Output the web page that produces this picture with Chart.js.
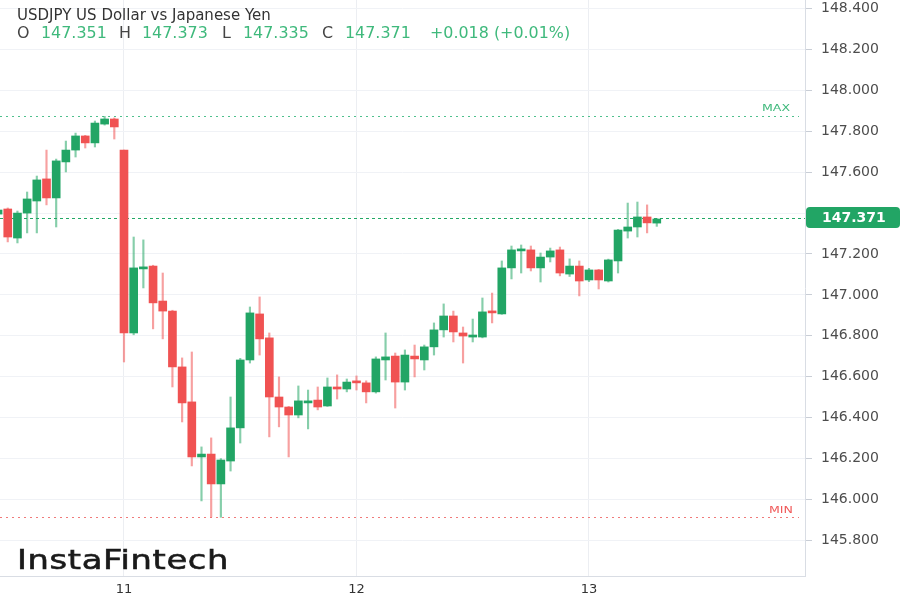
<!DOCTYPE html>
<html>
<head>
<meta charset="utf-8">
<script src="https://cdn.jsdelivr.net/npm/chart.js@4.4.0/dist/chart.umd.min.js"></script>
<style>
    html, body { margin: 0; padding: 0; background: #fff; }
    #wrap { width: 900px; height: 600px; }
</style>
</head>
<body>
<div id="wrap"><canvas id="fxChart" width="900" height="600"></canvas></div>
<script>
// hourly candles, hour 0 = day 11 00:00
const hours = [-13, -12, -11, -10, -9, -8, -7, -6, -5, -4, -3, -2, -1,
    0, 1, 2, 3, 4, 5, 6, 7, 8, 9, 10, 11, 12, 13, 14, 15, 16, 17, 18, 19, 20, 21, 22, 23,
    24, 25, 26, 27, 28, 29, 30, 31, 32, 33, 34, 35, 36, 37, 38, 39, 40, 41, 42, 43, 44, 45, 46, 47,
    48, 49, 50, 51, 52, 53, 54, 55];

const opens = [147.395, 147.420, 147.278, 147.400, 147.459, 147.567, 147.474, 147.650, 147.708, 147.777, 147.743, 147.835, 147.860,
    147.708, 146.814, 147.127, 147.141, 146.970, 146.921, 146.648, 146.477, 146.208, 146.222, 146.076, 146.188, 146.350, 146.682, 146.907, 146.790, 146.501, 146.452, 146.413, 146.472, 146.486, 146.457, 146.550, 146.540,
    146.579, 146.570, 146.526, 146.682, 146.701, 146.574, 146.701, 146.682, 146.746, 146.829, 146.897, 146.814, 146.794, 146.794, 146.917, 146.907, 147.132, 147.215, 147.220, 147.132, 147.185, 147.220, 147.102, 147.141,
    147.073, 147.122, 147.068, 147.166, 147.312, 147.332, 147.381, 147.351];

const highs = [147.420, 147.425, 147.410, 147.503, 147.581, 147.708, 147.664, 147.752, 147.791, 147.780, 147.850, 147.873, 147.865,
    147.708, 147.283, 147.269, 147.145, 147.107, 146.925, 146.692, 146.721, 146.257, 146.301, 146.200, 146.501, 146.690, 146.941, 146.990, 146.814, 146.599, 146.455, 146.555, 146.535, 146.550, 146.594, 146.609, 146.589,
    146.604, 146.580, 146.697, 146.814, 146.716, 146.731, 146.755, 146.755, 146.863, 146.956, 146.921, 146.843, 146.882, 146.985, 147.009, 147.166, 147.239, 147.244, 147.239, 147.205, 147.229, 147.234, 147.176, 147.166,
    147.130, 147.125, 147.175, 147.320, 147.449, 147.454, 147.440, 147.373];

const lows = [147.380, 147.259, 147.254, 147.303, 147.303, 147.440, 147.332, 147.601, 147.674, 147.718, 147.723, 147.830, 147.762,
    146.672, 146.805, 147.034, 146.834, 146.785, 146.550, 146.379, 146.164, 145.993, 145.915, 145.913, 146.139, 146.276, 146.667, 146.706, 146.306, 146.355, 146.208, 146.399, 146.345, 146.438, 146.455, 146.491, 146.526,
    146.535, 146.472, 146.520, 146.584, 146.447, 146.535, 146.599, 146.633, 146.706, 146.794, 146.770, 146.667, 146.770, 146.790, 146.863, 146.905, 147.078, 147.107, 147.117, 147.063, 147.161, 147.093, 147.090, 146.995,
    147.065, 147.029, 147.063, 147.107, 147.278, 147.283, 147.303, 147.335];

const closes = [147.415, 147.283, 147.400, 147.469, 147.562, 147.474, 147.655, 147.708, 147.777, 147.743, 147.840, 147.860, 147.821,
    146.814, 147.132, 147.137, 146.961, 146.921, 146.648, 146.472, 146.208, 146.222, 146.076, 146.193, 146.350, 146.682, 146.912, 146.785, 146.501, 146.452, 146.413, 146.482, 146.482, 146.452, 146.550, 146.540, 146.574,
    146.570, 146.526, 146.687, 146.697, 146.574, 146.706, 146.687, 146.746, 146.829, 146.897, 146.819, 146.799, 146.804, 146.917, 146.912, 147.132, 147.220, 147.220, 147.132, 147.185, 147.215, 147.107, 147.141, 147.068,
    147.122, 147.073, 147.171, 147.317, 147.332, 147.381, 147.352, 147.371];

const dayTicks = [0, 24, 48];
const dayLabels = ["11", "12", "13"];
const priceTicks = [145.8, 146.0, 146.2, 146.4, 146.6, 146.8, 147.0, 147.2, 147.4, 147.6, 147.8, 148.0, 148.2, 148.4];

const GREEN = "#22a565";
const RED = "#f05252";
const GREEN_WICK = "rgba(34,165,101,0.55)";
const RED_WICK = "rgba(240,82,82,0.55)";
const FONT = "DejaVu Sans";

const last = closes.length - 1;
const isUp = i => closes[i] >= opens[i];

function stretchText(c, text, x, y, font, color, sx, stroke) {
    c.save();
    c.font = font;
    c.fillStyle = color;
    c.textBaseline = "alphabetic";
    c.translate(x, y);
    c.scale(sx, 1);
    c.fillText(text, 0, 0);
    if (stroke) {
        c.strokeStyle = color;
        c.lineWidth = stroke;
        c.strokeText(text, 0, 0);
    }
    c.restore();
}

function hLine(c, area, y, color, dash, right) {
    c.save();
    c.strokeStyle = color;
    c.lineWidth = 1;
    c.setLineDash(dash);
    c.beginPath();
    c.moveTo(area.left, Math.round(y) + 0.5);
    c.lineTo(right, Math.round(y) + 0.5);
    c.stroke();
    c.restore();
}

const overlay = {
    id: "overlay",
    beforeDatasetsDraw(chart) {
        const c = chart.ctx, a = chart.chartArea, y = chart.scales.y;
        hLine(c, a, y.getPixelForValue(Math.max(...highs)), "#4fc08d", [2, 4], a.right - 6);
        hLine(c, a, y.getPixelForValue(Math.min(...lows)), "#f07a7a", [2, 4], a.right - 6);
        hLine(c, a, y.getPixelForValue(closes[last]) - 1, "#22a865", [3, 3], a.right);
    },
    afterDraw(chart) {
        const c = chart.ctx, a = chart.chartArea, y = chart.scales.y;
        const yMax = y.getPixelForValue(Math.max(...highs));
        const yMin = y.getPixelForValue(Math.min(...lows));
        stretchText(c, "MAX", 762, yMax - 5, "9px " + FONT, "#3fb97c", 1.4);
        stretchText(c, "MIN", 769, yMin - 4, "9px " + FONT, "#f05a5a", 1.4);

        // last price tag on the axis
        const yl = y.getPixelForValue(closes[last]) - 1;
        c.save();
        c.fillStyle = GREEN;
        c.beginPath();
        c.roundRect(a.right + 1, yl - 11, chart.width - a.right - 1, 21, 4);
        c.fill();
        c.fillStyle = "#fff";
        c.font = "bold 14px " + FONT;
        c.textBaseline = "middle";
        c.fillText(closes[last].toFixed(3), 822, yl + 0.5);
        c.restore();

        // header
        stretchText(c, "USDJPY US Dollar vs Japanese Yen", 17, 19.5, "15px " + FONT, "#333", 1);
        const ohlc = [["O", 17], [opens[last].toFixed(3), 41], ["H", 119], [highs[last].toFixed(3), 142],
            ["L", 222], [lows[last].toFixed(3), 243], ["C", 322], [closes[last].toFixed(3), 345]];
        ohlc.forEach(([t, x], k) => {
            stretchText(c, t, x, 38, "15px " + FONT, k % 2 ? "#3fb97c" : "#444", 1.06);
        });
        stretchText(c, "+0.018 (+0.01%)", 430, 38, "15px " + FONT, "#3fb97c", 1.06);

        // watermark
        c.save();
        c.letterSpacing = "0.5px";
        stretchText(c, "InstaFintech", 17, 569, "27px " + FONT, "#1a1a1a", 1.25, 0.6);
        c.restore();
    }
};

const ctx = document.getElementById("fxChart");

const chart = new Chart(ctx, {
    type: "bar",
    data: {
        datasets: [{
            label: "body",
            data: hours.map((h, i) => ({ x: h, y: [opens[i], closes[i]] })),
            backgroundColor: c => isUp(c.dataIndex) ? GREEN : RED,
            barThickness: 8,
            minBarLength: 2,
            grouped: false,
            borderWidth: 0
        }, {
            label: "wick",
            data: hours.map((h, i) => ({ x: h, y: [lows[i], highs[i]] })),
            backgroundColor: c => isUp(c.dataIndex) ? GREEN_WICK : RED_WICK,
            barThickness: 1.5,
            grouped: false,
            borderWidth: 0
        }]
    },
    options: {
        responsive: false,
        animation: false,
        layout: { padding: 0, autoPadding: false },
        plugins: {
            legend: { display: false },
            tooltip: { enabled: false }
        },
        scales: {
            x: {
                type: "linear",
                min: -12.8,
                max: 70.3,
                offset: false,
                afterBuildTicks: s => { s.ticks = dayTicks.map(v => ({ value: v })); },
                afterFit: s => { s.height = 24; s.paddingLeft = 0; s.paddingRight = 0; },
                grid: { color: "#eceef2", drawTicks: false, offset: false },
                border: { color: "#d9dde4" },
                ticks: {
                    callback: v => dayLabels[dayTicks.indexOf(v)],
                    color: "#333",
                    font: { family: FONT, size: 13 },
                    padding: 6,
                    maxRotation: 0,
                    autoSkip: false
                }
            },
            y: {
                position: "right",
                min: 145.626,
                max: 148.4415,
                afterBuildTicks: s => { s.ticks = priceTicks.map(v => ({ value: v })); },
                afterFit: s => { s.width = 95; s.paddingTop = 0; s.paddingBottom = 0; },
                grid: { color: "#f0f2f6", tickColor: "#c9ced6", tickLength: 7 },
                border: { color: "#d9dde4" },
                ticks: {
                    callback: v => v.toFixed(3),
                    color: "#4d4d4d",
                    font: { family: FONT, size: 14 },
                    padding: 9,
                    autoSkip: false
                }
            }
        }
    },
    plugins: [overlay]
});
</script>
</body>
</html>
